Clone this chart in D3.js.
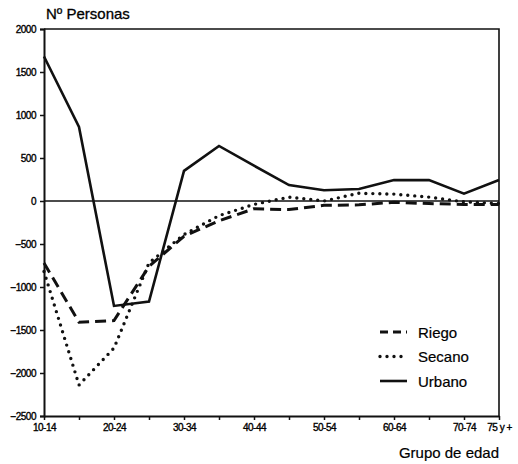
<!DOCTYPE html>
<html>
<head>
<meta charset="utf-8">
<script src="https://cdn.jsdelivr.net/npm/d3@7"></script>
<style>
  html, body { margin: 0; padding: 0; background: #fff; }
  svg { display: block; }
  text { font-family: "Liberation Sans", Arial, Helvetica, sans-serif; fill: #000; }
</style>
</head>
<body>
<svg id="chart" width="518" height="464"></svg>
<script>
const categories = ["10-14","15-19","20-24","25-29","30-34","35-39","40-44","45-49","50-54","55-59","60-64","65-69","70-74","75 y +"];
const tickLabels = ["10-14","","20-24","","30-34","","40-44","","50-54","","60-64","","70-74","75 y +"];
const yTicks = [2000, 1500, 1000, 500, 0, -500, -1000, -1500, -2000, -2500];
const riego  = [-720, -1410, -1390, -760, -410, -230, -90, -100, -50, -45, -15, -30, -40, -40];
const secano = [-820, -2140, -1710, -720, -390, -170, -40, 45, 0, 90, 80, 45, -10, -30];
const urbano = [1680, 860, -1220, -1170, 350, 640, 410, 185, 125, 140, 243, 243, 85, 245];
const seriesNames = ["Riego", "Secano", "Urbano"];

const svg = d3.select("#chart");
const mLeft = 44, mRight = 499, mTop = 29, mBottom = 416;

const x = d3.scalePoint().domain(categories).range([mLeft, mRight]);
const y = d3.scaleLinear().domain([-2500, 2000]).range([mBottom, mTop]);

// Frame (top and right)
svg.append("path")
  .attr("d", `M${mLeft},${mTop}H${mRight}V${mBottom}`)
  .attr("fill", "none").attr("stroke", "#111").attr("stroke-width", 1.6);

// Zero line
svg.append("line")
  .attr("x1", mLeft).attr("x2", mRight)
  .attr("y1", y(0)).attr("y2", y(0))
  .attr("stroke", "#111").attr("stroke-width", 1.5);

// Y axis
const yAxis = d3.axisLeft(y).tickValues(yTicks).tickSize(4).tickPadding(4).tickFormat(d3.format("d"));
const gy = svg.append("g").attr("transform", `translate(${mLeft},0)`).call(yAxis);
gy.select(".domain").attr("stroke", "#111").attr("stroke-width", 2);
gy.selectAll(".tick line").attr("stroke", "#111").attr("stroke-width", 1.5);
gy.selectAll(".tick text").style("font-size", "10px").style("letter-spacing", "-0.5px")
  .attr("fill", "#000").attr("stroke", "#000").attr("stroke-width", 0.35);

// X axis
const xAxis = d3.axisBottom(x).tickSize(4).tickSizeOuter(0).tickPadding(4)
  .tickFormat((d, i) => tickLabels[i]);
const gx = svg.append("g").attr("transform", `translate(0,${mBottom})`).call(xAxis);
gx.select(".domain").attr("stroke", "#111").attr("stroke-width", 2);
gx.selectAll(".tick line").attr("stroke", "#111").attr("stroke-width", 1.5);
gx.selectAll(".tick text").style("font-size", "10px").style("letter-spacing", "-0.5px")
  .attr("fill", "#000").attr("stroke", "#000").attr("stroke-width", 0.35);

// Lines
const line = d3.line().x((d, i) => x(categories[i])).y(d => y(d));
const styles = {
  Riego:  { data: riego,  width: 3,   dash: "11,6", cap: "butt" },
  Secano: { data: secano, width: 3.4, dash: "0,7",  cap: "round" },
  Urbano: { data: urbano, width: 2.6, dash: null,   cap: "butt" }
};
seriesNames.forEach(name => {
  const s = styles[name];
  svg.append("path")
    .datum(s.data)
    .attr("d", line)
    .attr("fill", "none")
    .attr("stroke", "#111")
    .attr("stroke-width", s.width)
    .attr("stroke-linecap", s.cap)
    .attr("stroke-linejoin", "miter")
    .attr("stroke-dasharray", s.dash);
});

// Legend
const lg = svg.append("g");
seriesNames.forEach((name, i) => {
  const s = styles[name];
  const ly = 332 + i * 24.5;
  lg.append("line")
    .attr("x1", 380).attr("x2", 407).attr("y1", ly).attr("y2", ly)
    .attr("stroke", "#111").attr("stroke-width", s.width)
    .attr("stroke-linecap", s.cap)
    .attr("stroke-dasharray", name === "Riego" ? "8,5" : s.dash);
  lg.append("text")
    .attr("x", 418).attr("y", ly + 5.5)
    .style("font-size", "15px")
    .attr("stroke", "#000").attr("stroke-width", 0.2)
    .text(name);
});

// Titles
svg.append("text").attr("x", 46).attr("y", 19).style("font-size", "15px")
  .attr("stroke", "#000").attr("stroke-width", 0.3).text("Nº Personas");
svg.append("text").attr("x", 499).attr("y", 458).attr("text-anchor", "end").style("font-size", "15px")
  .attr("stroke", "#000").attr("stroke-width", 0.2).text("Grupo de edad");
</script>
</body>
</html>
